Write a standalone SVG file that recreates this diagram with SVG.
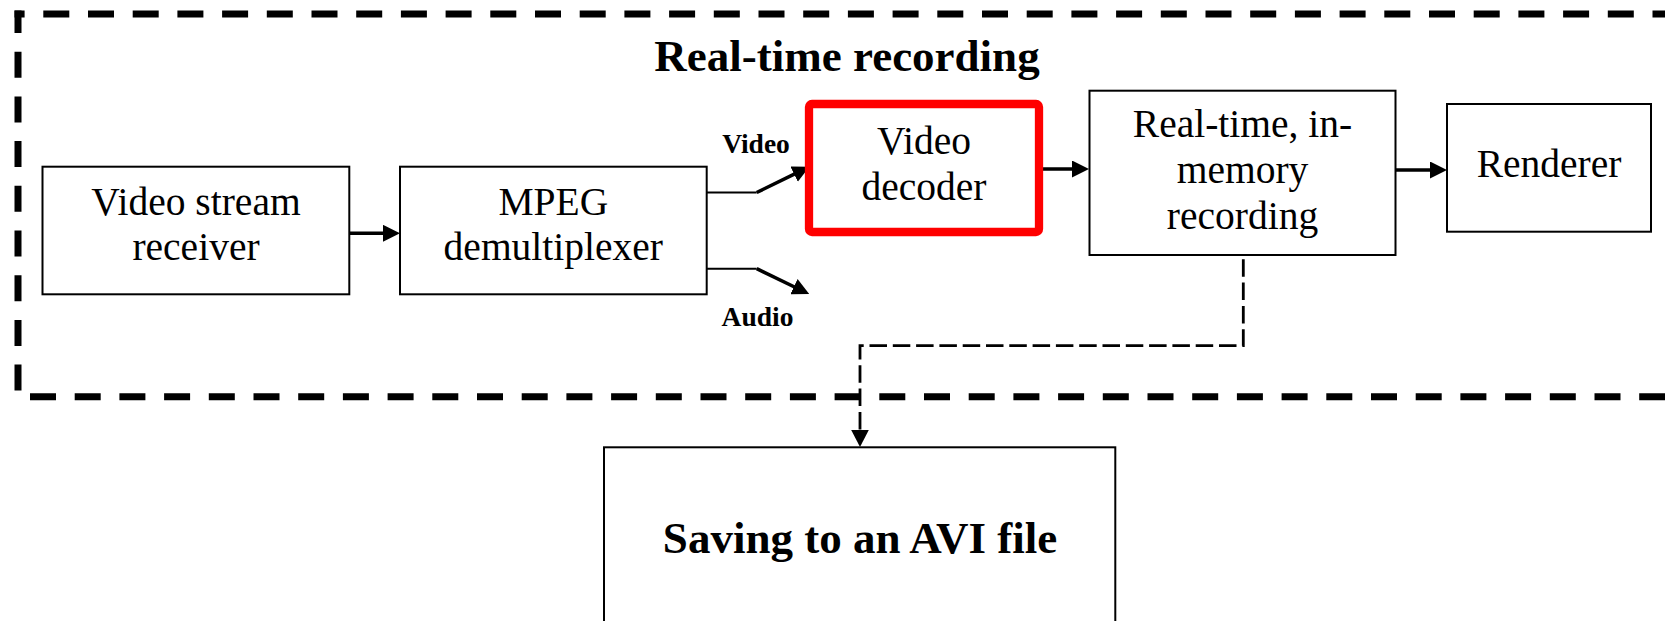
<svg xmlns="http://www.w3.org/2000/svg" width="1665" height="621" viewBox="0 0 1665 621">
<style>
.box{fill:#fff;stroke:#000;stroke-width:2}
.t{font-family:"Liberation Serif","Times New Roman",serif;font-size:39.5px;fill:#000;text-anchor:middle}
.b{font-family:"Liberation Serif","Times New Roman",serif;font-weight:bold;fill:#000;text-anchor:middle}
.arr{fill:none;stroke:#000;stroke-width:3.5;marker-end:url(#ah)}
.thin{fill:none;stroke:#000;stroke-width:2}
.border{fill:none;stroke:#000;stroke-width:7;stroke-dasharray:26 18.7}
</style>
<defs>
<marker id="ah" viewBox="0 0 17 17" refX="3" refY="8.5" markerWidth="17" markerHeight="17" markerUnits="userSpaceOnUse" orient="auto">
<path d="M0,0 L17,8.5 L0,17 z" fill="#000"/>
</marker>
</defs>
<rect width="1665" height="621" fill="#fff"/>
<g id="group-border">
<line class="border" x1="14.5" y1="14" x2="1700" y2="14" stroke-dashoffset="15.9"/>
<line class="border" x1="18" y1="10.5" x2="18" y2="400" stroke-dashoffset="3.5"/>
<line class="border" x1="14.5" y1="396.7" x2="1700" y2="396.7" stroke-dashoffset="29.2"/>
<text class="b" x="847" y="70.7" font-size="45">Real-time recording</text>
</g>
<g id="connectors">
<line class="arr" x1="349.3" y1="233.3" x2="386" y2="233.3"/>
<polyline class="thin" points="706.7,192.5 756.7,192.5"/>
<line class="arr" x1="756.7" y1="192.5" x2="796.8" y2="172.9" stroke-width="3"/>
<polyline class="thin" points="706.7,268.7 756.7,268.7"/>
<line class="arr" x1="756.7" y1="268.7" x2="796.6" y2="288" stroke-width="3"/>
<line class="arr" x1="1043" y1="169" x2="1075" y2="169"/>
<line class="arr" x1="1395.5" y1="170" x2="1433" y2="170"/>
<path d="M1243.3,259.3 V345.7 H860 V431" fill="none" stroke="#000" stroke-width="2.8" stroke-dasharray="17.5 5.8"/>
<path d="M851.2,430 L868.8,430 L860,447 z" fill="#000"/>
</g>
<g id="node-receiver">
<rect class="box" x="42.5" y="166.7" width="306.8" height="127.6"/>
<text class="t" x="196" y="214.5">Video stream</text>
<text class="t" x="196" y="260">receiver</text>
</g>
<g id="node-demux">
<rect class="box" x="400" y="166.7" width="306.7" height="127.6"/>
<text class="t" x="553.3" y="214.5">MPEG</text>
<text class="t" x="553.3" y="260">demultiplexer</text>
</g>
<g id="label-video">
<text class="b" x="756" y="152.7" font-size="27.5">Video</text>
</g>
<g id="label-audio">
<text class="b" x="757.5" y="325.5" font-size="27.5">Audio</text>
</g>
<g id="node-decoder">
<rect x="809" y="104" width="230" height="128" rx="3" fill="#fff" stroke="#ff0000" stroke-width="8.3"/>
<text class="t" x="924" y="154.3">Video</text>
<text class="t" x="924" y="200">decoder</text>
</g>
<g id="node-recording">
<rect class="box" x="1089.5" y="90.7" width="306" height="164.3"/>
<text class="t" x="1242.5" y="137.3">Real-time, in-</text>
<text class="t" x="1242.5" y="183">memory</text>
<text class="t" x="1242.5" y="228.5">recording</text>
</g>
<g id="node-renderer">
<rect class="box" x="1447" y="104" width="204" height="127.7"/>
<text class="t" x="1549" y="177.3">Renderer</text>
</g>
<g id="node-avi">
<rect class="box" x="604" y="447.3" width="511.3" height="200"/>
<text class="b" x="860" y="553.3" font-size="45">Saving to an AVI file</text>
</g>
</svg>
